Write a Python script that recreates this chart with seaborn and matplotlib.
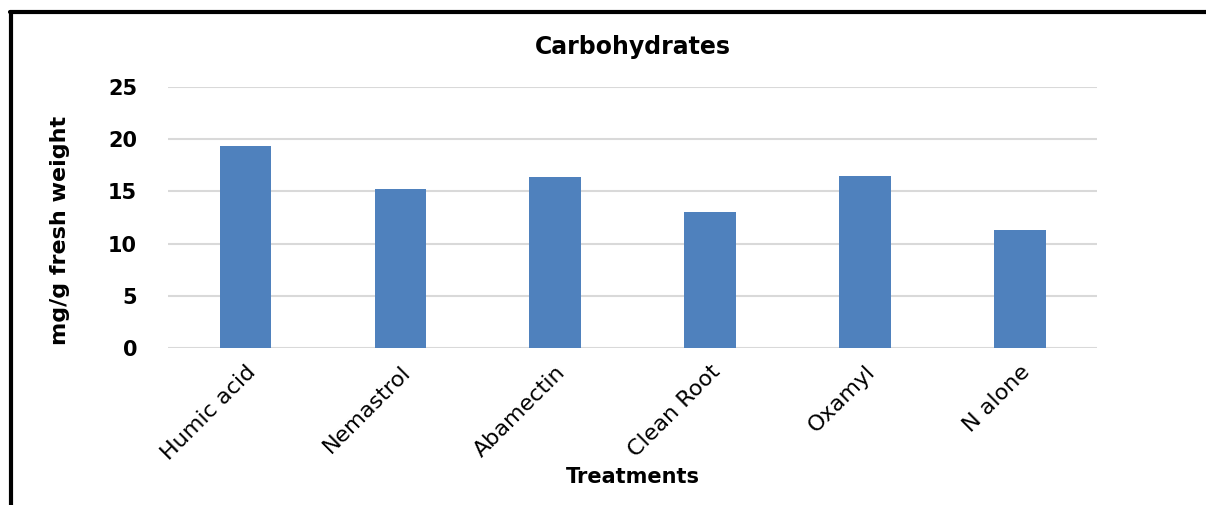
import matplotlib
matplotlib.use('Agg')
import matplotlib.pyplot as plt
import seaborn as sns
import pandas as pd
from matplotlib.lines import Line2D

treatments = ['Humic acid', 'Nemastrol', 'Abamectin', 'Clean Root', 'Oxamyl', 'N alone']
carbs = [19.3, 15.2, 16.4, 13.0, 16.5, 11.3]
y_ticks = [0, 5, 10, 15, 20, 25]

sns.set_theme(style="white")
plt.rcParams['font.family'] = ['DejaVu Sans']
plt.rcParams['text.color'] = 'black'

df = pd.DataFrame({'treatment': treatments, 'value': carbs})

fig = plt.figure(figsize=(12.06, 5.05), dpi=100)
ax = fig.add_axes([0.139, 0.311, 0.771, 0.517])

sns.barplot(data=df, x='treatment', y='value', color='#4f81bd', width=0.33,
            saturation=1, linewidth=0, ax=ax, zorder=3)

ax.set_ylim(0, 25)
ax.set_yticks(y_ticks)
ax.set_yticklabels([str(t) for t in y_ticks], fontsize=15, fontweight='bold', color='black')
ax.grid(axis='y', color='#d9d9d9', linewidth=1.5, zorder=0)
ax.set_axisbelow(True)
for s in ax.spines.values():
    s.set_visible(False)
ax.tick_params(axis='both', length=0)
ax.tick_params(axis='y', pad=22)
ax.tick_params(axis='x', pad=10)
ax.set_xticks(range(len(treatments)))
ax.set_xticklabels(treatments, rotation=45, ha='right', rotation_mode='anchor',
                   fontsize=16, color='black')

ax.set_xlabel('Treatments', fontsize=15, fontweight='bold', labelpad=2, color='black')
ax.set_ylabel('mg/g fresh weight', fontsize=16, fontweight='bold', color='black')
ax.yaxis.set_label_coords(-0.105, 0.45)
ax.set_title('Carbohydrates', fontsize=17, fontweight='bold', pad=24, color='black')

# outer chart frame (top and left edges visible)
fig.add_artist(Line2D([0.008, 1.0], [0.976, 0.976], color='black', linewidth=3,
                      transform=fig.transFigure))
fig.add_artist(Line2D([0.009, 0.009], [0.0, 0.976], color='black', linewidth=3,
                      transform=fig.transFigure))

fig.savefig('out.png', dpi=100)
